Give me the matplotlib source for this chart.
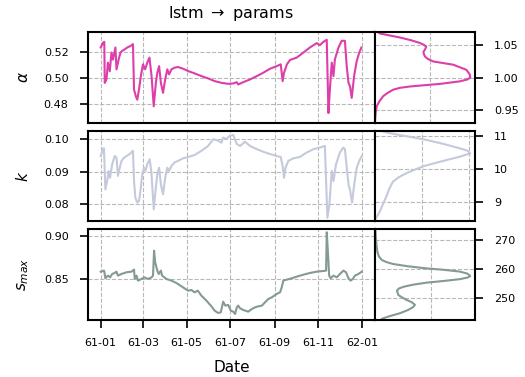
import numpy as np
import pandas as pd
import matplotlib
matplotlib.use('Agg')
import matplotlib.pyplot as plt
import matplotlib.dates as mdates

# ---- time series (day offset from 1961-01-01, value) ----
alpha_days = [0, 3, 5, 5.6, 8, 10, 12.6, 15, 17, 20.5, 22, 25, 27.5, 30, 33.5, 37, 42, 45, 46.5, 49, 51,
              53.5, 56, 59, 62, 65, 68, 71, 74, 77, 79, 81.5, 84, 87, 90, 93, 95.4, 98.7, 103, 108, 115,
              122, 131, 140.6, 150, 159, 168.5, 178, 185, 187.6, 190, 192, 199, 208.5, 218, 227, 236.5,
              245.8, 251.4, 254, 256, 260, 264.4, 273.7, 283, 292, 301.6, 306, 311, 315.6, 318, 320,
              322.6, 325, 327, 332, 336.5, 341, 343.5, 346, 348, 350.5, 353.8, 357.5, 361, 364]
alpha_vals = [0.5234, 0.527, 0.5278, 0.496, 0.4987, 0.5117, 0.505, 0.5195, 0.514, 0.5234, 0.5065, 0.514,
              0.5195, 0.5208, 0.522, 0.5234, 0.5247, 0.526, 0.4909, 0.4857, 0.483, 0.491, 0.5013, 0.5104,
              0.5065, 0.5117, 0.5156, 0.5013, 0.4779, 0.4961, 0.5039, 0.509, 0.4961, 0.4883, 0.4987,
              0.5065, 0.5026, 0.5065, 0.5078, 0.5083, 0.507, 0.5052, 0.5034, 0.5013, 0.4995, 0.4974,
              0.4961, 0.4953, 0.4956, 0.4961, 0.4966, 0.4948, 0.4966, 0.4987, 0.5013, 0.5039, 0.507,
              0.509, 0.5104, 0.4974, 0.5039, 0.5104, 0.5138, 0.5156, 0.5195, 0.5234, 0.5268, 0.5252,
              0.5278, 0.5294, 0.4727, 0.4909, 0.5117, 0.5013, 0.5143, 0.5234, 0.5286, 0.5286, 0.509,
              0.4961, 0.4935, 0.4844, 0.5013, 0.513, 0.5195, 0.5234]

k_days = [0, 3, 4.5, 6.5, 9, 11, 13, 16, 19.5, 22, 24, 26.5, 29, 32.6, 36, 40.5, 45, 46.5, 48.4, 51, 53.5,
          56, 58, 60.5, 62.5, 65, 68.4, 70.8, 74, 77, 79, 81.5, 84, 87, 90, 93, 95.4, 98.7, 103, 108, 115,
          122, 131, 140.6, 150, 157, 164, 168.5, 171, 175.5, 180, 185, 190, 194.6, 201.5, 208.5, 218,
          227, 236.5, 245.8, 251.4, 254, 256, 258, 262, 269, 278, 287.7, 297, 306, 313, 316.5, 319.3,
          322.6, 325, 328.6, 334, 338.9, 341, 344.5, 346.3, 348, 351, 354, 357.5, 361, 364.5]
k_vals = [0.0948, 0.0969, 0.0972, 0.0845, 0.0871, 0.0902, 0.0881, 0.0923, 0.0948, 0.0943, 0.0887,
          0.0912, 0.0933, 0.0943, 0.0948, 0.0954, 0.0964, 0.0871, 0.082, 0.0805, 0.081, 0.0851, 0.0892,
          0.0912, 0.0902, 0.0923, 0.0938, 0.0897, 0.0784, 0.0851, 0.0892, 0.0912, 0.0861, 0.083, 0.0881,
          0.0912, 0.0902, 0.0917, 0.0928, 0.0933, 0.0941, 0.0945, 0.0951, 0.0964, 0.0979, 0.100, 0.0995,
          0.0989, 0.1005, 0.100, 0.101, 0.1013, 0.0985, 0.0979, 0.0992, 0.0979, 0.0969, 0.0961, 0.0954,
          0.0948, 0.0945, 0.0917, 0.0881, 0.0912, 0.0933, 0.0941, 0.0945, 0.0959, 0.0969, 0.0974,
          0.0979, 0.0758, 0.0799, 0.0902, 0.0871, 0.0923, 0.0959, 0.0974, 0.0969, 0.0892, 0.0856,
          0.0845, 0.0805, 0.0861, 0.0912, 0.0933, 0.0948]

smax_days = [0, 4.7, 6.5, 10, 13, 16, 19.5, 22, 24, 29, 36, 43, 46.5, 47.5, 50, 52, 57, 61, 66, 71, 73,
             74.5, 76, 79, 81, 84, 85.7, 91.7, 98.7, 105.7, 112.7, 117, 122, 126.6, 131, 135.5, 140.6,
             147.6, 154.6, 159, 164, 167.6, 171, 174, 178, 181.6, 185, 187.6, 190, 192, 194.6, 199, 206,
             211, 215.5, 220, 225, 229.5, 234, 239, 245.8, 250.4, 252.8, 255, 259.7, 266.7, 273.7, 283,
             292.3, 301.6, 311, 314.7, 315.6, 317, 319, 321, 325, 329.6, 334, 338.9, 342.6, 345.9, 349,
             352, 355, 359.8, 364.5]
smax_vals = [0.8585, 0.8597, 0.8508, 0.8539, 0.8519, 0.8558, 0.857, 0.8585, 0.8539, 0.8558, 0.8578,
             0.8585, 0.8609, 0.85, 0.8539, 0.8481, 0.85, 0.8519, 0.85, 0.8519, 0.8539, 0.8829, 0.8694,
             0.8597, 0.8558, 0.8597, 0.8539, 0.85, 0.8481, 0.8453, 0.8415, 0.8391, 0.8364, 0.8372,
             0.8345, 0.8364, 0.8306, 0.8248, 0.8182, 0.8132, 0.8105, 0.8112, 0.8236, 0.819, 0.8198,
             0.8132, 0.812, 0.8093, 0.817, 0.819, 0.8159, 0.814, 0.812, 0.8151, 0.817, 0.8182, 0.819,
             0.8229, 0.8267, 0.8287, 0.8326, 0.8345, 0.8403, 0.8481, 0.8492, 0.8508, 0.8527, 0.855,
             0.857, 0.8585, 0.8593, 0.8597, 0.9043, 0.8849, 0.8539, 0.8508, 0.8539, 0.8519, 0.8558,
             0.8597, 0.8578, 0.8508, 0.8481, 0.85, 0.8539, 0.8558, 0.8585]

# ---- density curves (value, density) ----
alpha_dens_y = [0.930, 0.945, 0.955, 0.963, 0.971, 0.976, 0.981, 0.984, 0.986, 0.988, 0.990, 0.994,
                0.997, 1.000, 1.005, 1.012, 1.020, 1.025, 1.029, 1.0325, 1.036, 1.040, 1.044, 1.048,
                1.051, 1.054, 1.058, 1.0625, 1.066, 1.0687, 1.071]
alpha_dens_x = [0.0, 0.12, 0.31, 0.8, 1.5, 2.3, 3.3, 4.6, 6.4, 9.0, 11.8, 15.4, 16.8, 17.3, 17.2, 16.6,
                14.2, 10.6, 9.6, 9.1, 8.9, 8.8, 9.1, 9.3, 8.9, 8.1, 6.6, 4.5, 2.4, 0.9, 0.5]

k_dens_y = [8.47, 8.6, 8.72, 8.95, 9.17, 9.4, 9.62, 9.75, 9.87, 9.98, 10.09, 10.18, 10.27, 10.37, 10.47,
            10.55, 10.62, 10.75, 10.87, 10.95, 11.02, 11.08, 11.12, 11.14]
k_dens_x = [0.0, 0.025, 0.05, 0.085, 0.12, 0.15, 0.19, 0.25, 0.33, 0.42, 0.52, 0.64, 0.76, 0.9, 1.01,
            0.98, 0.90, 0.73, 0.55, 0.40, 0.26, 0.15, 0.09, 0.07]

smax_dens_y = [242.4, 242.8, 243.7, 244.7, 245.8, 246.8, 247.6, 248.5, 249.3, 250.2, 251.0, 252.5,
               253.2, 253.8, 254.5, 255.2, 255.8, 256.4, 257.0, 257.5, 258.3, 259.0, 259.6, 260.1,
               260.8, 261.6, 262.3, 263.0, 264.2, 265.8, 269.8, 273.6]
smax_dens_x = [0.0056, 0.006, 0.013, 0.0222, 0.0295, 0.0342, 0.0359, 0.0330, 0.0282, 0.0240, 0.0209,
               0.0197, 0.0215, 0.0257, 0.0340, 0.0462, 0.0620, 0.0761, 0.0835, 0.0855, 0.0830, 0.0761,
               0.0620, 0.0462, 0.0300, 0.0162, 0.0100, 0.006, 0.0035, 0.0021, 0.0009, 0.0004]

start = pd.Timestamp('1961-01-01')


def to_dates(days):
    return start + pd.to_timedelta(np.array(days), unit='D')


rows = [
    (alpha_days, alpha_vals, alpha_dens_y, alpha_dens_x, '#dd3ea9', r'$\alpha$',
     (0.465, 0.5354), [0.48, 0.50, 0.52], (0.929, 1.071), [0.95, 1.00, 1.05], [10]),
    (k_days, k_vals, k_dens_y, k_dens_x, '#c4cadc', r'$k$',
     (0.0749, 0.1025), [0.08, 0.09, 0.10], (8.45, 11.14), [9, 10, 11], [0.5, 1.0]),
    (smax_days, smax_vals, smax_dens_y, smax_dens_x, '#849a92', r'$s_{max}$',
     (0.8023, 0.9081), [0.85, 0.90], (242.4, 273.6), [250, 260, 270], [0.05]),
]

fig = plt.figure(figsize=(5.25, 3.77), dpi=100)
W, H = 525.0, 377.0
row_px = [(32, 123), (131, 220.7), (229, 320)]
grid_kw = dict(color='0.72', linestyle='--', linewidth=0.8)

xl = (start + pd.Timedelta(days=-18.2), start + pd.Timedelta(days=383))

for i, (days, vals, dy, dx, color, lab, ylim, yt, dylim, dyt, dxt) in enumerate(rows):
    top, bot = row_px[i]
    b = 1 - bot / H
    h = (bot - top) / H
    ax = fig.add_axes([87.7 / W, b, (375 - 87.7) / W, h])
    axd = fig.add_axes([375 / W, b, 100 / W, h])

    ax.plot(to_dates(days), vals, color=color, lw=1.5)
    ax.set_xlim(xl)
    ax.set_ylim(ylim)
    ax.set_yticks(yt)
    ax.set_yticklabels(['%.2f' % v for v in yt])
    ax.xaxis.set_major_locator(mdates.MonthLocator(bymonth=[1, 3, 5, 7, 9, 11]))
    ax.xaxis.set_major_formatter(mdates.DateFormatter('%y-%m'))
    ax.grid(True, **grid_kw)
    ax.set_axisbelow(True)
    ax.set_ylabel(lab, fontsize=11, labelpad=9)
    ax.tick_params(axis='y', length=5.8, width=1.2, pad=8, labelsize=8)
    ax.tick_params(axis='x', length=5.8, width=1.2, pad=7, labelsize=8)
    if i < 2:
        ax.tick_params(axis='x', bottom=False, labelbottom=False)
    for s in ax.spines.values():
        s.set_linewidth(1.5)

    axd.plot(dx, dy, color=color, lw=1.5)
    axd.set_xlim(0, max(dx) * 1.05)
    axd.set_ylim(dylim)
    axd.set_xticks(dxt)
    axd.set_yticks(dyt)
    axd.yaxis.tick_right()
    axd.tick_params(axis='x', bottom=False, labelbottom=False)
    axd.tick_params(axis='y', length=5.8, width=1.2, pad=8, labelsize=8)
    axd.grid(True, **grid_kw)
    axd.set_axisbelow(True)
    for s in axd.spines.values():
        s.set_linewidth(1.5)

    if i == 0:
        ax.set_title('lstm $\\rightarrow$ params', fontsize=11.5, pad=10)
    if i == 2:
        ax.set_xlabel('Date', fontsize=11, labelpad=9)

fig.savefig('out.png', dpi=100)
